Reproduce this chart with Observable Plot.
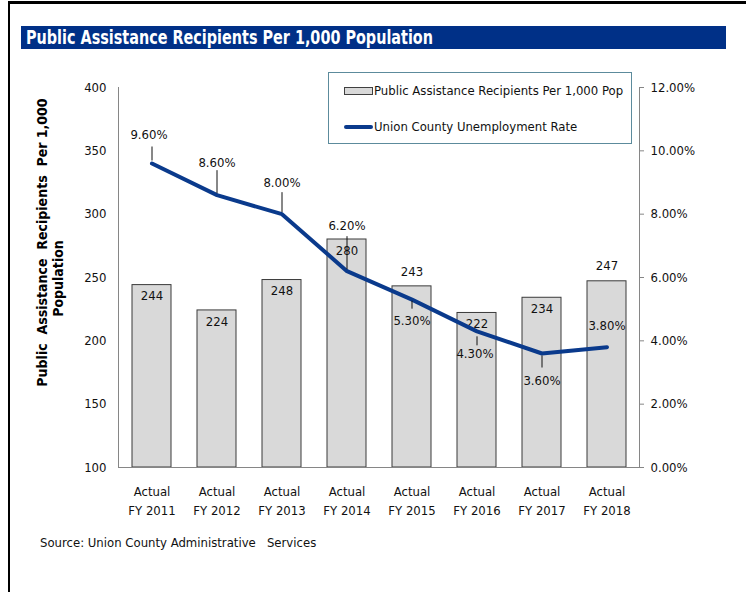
<!DOCTYPE html>
<html>
<head>
<meta charset="utf-8">
<script src="https://cdn.jsdelivr.net/npm/d3@7"></script>
<script src="https://cdn.jsdelivr.net/npm/@observablehq/plot@0.6"></script>
<style>
  html, body { margin: 0; padding: 0; background: #fff; }
  #page { position: relative; width: 746px; height: 592px; overflow: hidden; font-family: "DejaVu Sans Condensed", "DejaVu Sans", sans-serif; font-stretch: condensed; }
  #chart { position: absolute; left: 0; top: 0; }
  #chart svg text { white-space: pre; }
  .frame-top { position: absolute; left: 8px; top: 1px; width: 738px; height: 3px; background: #000; }
  .frame-left { position: absolute; left: 8px; top: 1px; width: 2px; height: 591px; background: #000; }
  #title { position: absolute; left: 21px; top: 26px; width: 705px; height: 23px; background: #003087; }
  #title span { position: absolute; left: 5px; top: 0px; color: #fff; font-weight: bold; font-size: 20px; line-height: 23px; white-space: nowrap; transform-origin: 0 50%; }
  #legend { position: absolute; left: 328px; top: 72px; width: 302px; height: 70px; border: 1px solid #5c8b9c; background: #fff; font-size: 13px; color: #111; }
  .sw-bar { position: absolute; left: 15px; top: 14px; width: 27px; height: 6px; background: #d9d9d9; border: 1px solid #404040; }
  .sw-line { position: absolute; left: 15px; top: 52px; width: 29px; height: 4px; background: #0a3a8c; border-radius: 2px; }
  .lg-t { position: absolute; left: 45px; white-space: nowrap; line-height: 16px; }
  #source { position: absolute; left: 40px; top: 535px; font-size: 13px; color: #111; white-space: pre; line-height: 16px; }
</style>
</head>
<body>
<div id="page">
  <div id="chart"></div>
  <div class="frame-top"></div>
  <div class="frame-left"></div>
  <div id="title"><span id="titleText">Public Assistance Recipients Per 1,000 Population</span></div>
  <div id="legend">
    <div class="sw-bar"></div><div class="lg-t" id="lg1" style="top:10px"></div>
    <div class="sw-line"></div><div class="lg-t" id="lg2" style="top:46px"></div>
  </div>
  <div id="source"></div>
</div>
<script>
// ---- data ----
const categories = ["Actual FY 2011", "Actual FY 2012", "Actual FY 2013", "Actual FY 2014", "Actual FY 2015", "Actual FY 2016", "Actual FY 2017", "Actual FY 2018"];
const tickLabels = ["Actual\nFY 2011", "Actual\nFY 2012", "Actual\nFY 2013", "Actual\nFY 2014", "Actual\nFY 2015", "Actual\nFY 2016", "Actual\nFY 2017", "Actual\nFY 2018"];
const recipients = [244, 224, 248, 280, 243, 222, 234, 247];
const unemployment = [9.6, 8.6, 8.0, 6.2, 5.3, 4.3, 3.6, 3.8];
const leftTicks = [100, 150, 200, 250, 300, 350, 400];
const rightTicks = [0, 2, 4, 6, 8, 10, 12];
const seriesNames = ["Public Assistance Recipients Per 1,000 Pop", "Union County Unemployment Rate"];
const yTitle = ["Public  Assistance  Recipients  Per 1,000", "Population"];
const sourceText = "Source: Union County Administrative   Services";

// ---- label placement (styling, px) ----
const barLabelPlace = ["in", "in", "in", "in", "above", "in", "in", "above"];
const rateLabelDy = [-29, -32, -31, -45, 21, 22, 27, -21];
const rateLabelDx = [-3, 0, 0, 0, 0, -2, 0, 0];
const leaderFrom = [-3, -2, -2, -2, 1, 5, 2, null];
const leaderTo = [-17, -25, -22, -35, 9, 14, 14, null];

// ---- layout ----
const W = 746, H = 592;
const mTop = 87, mBottom = 125, mLeft = 118, mRight = 107;
const yDomain = [100, 400];
const rateMax = 12;
const rateToY = r => yDomain[0] + r * (yDomain[1] - yDomain[0]) / rateMax;
const pxToUnits = (yDomain[1] - yDomain[0]) / (H - mTop - mBottom);

const rows = categories.map((c, i) => ({cat: c, value: recipients[i], rate: unemployment[i], i}));
const tickMap = new Map(categories.map((c, i) => [c, tickLabels[i]]));

const lineColor = "#0a3a8c";
const axisColor = "#868686";
const font = "'DejaVu Sans Condensed', 'DejaVu Sans', sans-serif";

const rateMarks = [];
rows.forEach((d, i) => {
  rateMarks.push(Plot.text([d], {
    x: "cat", y: e => rateToY(e.rate), text: e => e.rate.toFixed(2) + "%",
    dy: rateLabelDy[i], dx: rateLabelDx[i], fontSize: 13, fill: "#111"
  }));
  if (leaderFrom[i] !== null) {
    rateMarks.push(Plot.link([d], {
      x1: "cat", x2: "cat",
      y1: e => rateToY(e.rate) - leaderFrom[i] * pxToUnits,
      y2: e => rateToY(e.rate) - leaderTo[i] * pxToUnits,
      stroke: "#111", strokeWidth: 1
    }));
  }
});

const chart = Plot.plot({
  width: W, height: H,
  marginTop: mTop, marginBottom: mBottom, marginLeft: mLeft, marginRight: mRight,
  x: {domain: categories, paddingInner: 0.4, paddingOuter: 0.2},
  y: {domain: yDomain},
  style: {fontFamily: font, fontSize: "13px", color: "#111", background: "transparent"},
  marks: [
    Plot.barY(rows, {x: "cat", y1: yDomain[0], y2: "value", fill: "#d9d9d9", stroke: "#3a3a3a", strokeWidth: 1}),
    Plot.ruleY([yDomain[0]], {stroke: axisColor, strokeWidth: 1}),
    Plot.frame({anchor: "left", stroke: axisColor}),
    Plot.frame({anchor: "right", stroke: axisColor}),
    Plot.axisY({anchor: "left", label: null, ticks: leftTicks, tickSize: 0, tickPadding: 12, fontSize: 13}),
    Plot.axisY({anchor: "right", label: null, ticks: rightTicks.map(rateToY), tickFormat: d => ((d - yDomain[0]) / (yDomain[1] - yDomain[0]) * rateMax).toFixed(2) + "%", tickSize: 4, tickPadding: 7, stroke: axisColor, fontSize: 13}),
    Plot.axisX({anchor: "bottom", label: null, tickSize: 0, tickPadding: 15, tickFormat: d => tickMap.get(d), lineHeight: 1.45, fontSize: 13}),
    Plot.text(rows.filter((d, i) => barLabelPlace[i] === "in"), {x: "cat", y: "value", text: d => String(d.value), dy: 11, fontSize: 13, fill: "#111"}),
    Plot.text(rows.filter((d, i) => barLabelPlace[i] === "above"), {x: "cat", y: "value", text: d => String(d.value), dy: -15, fontSize: 13, fill: "#111"}),
    Plot.line(rows, {x: "cat", y: d => rateToY(d.rate), stroke: lineColor, strokeWidth: 4, strokeLinejoin: "round", strokeLinecap: "round"}),
    ...rateMarks,
    Plot.text([yTitle[0]], {frameAnchor: "left", textAnchor: "middle", rotate: -90, dx: -76, dy: -35, fontWeight: "bold", fontSize: 14, fontFamily: "'DejaVu Sans', sans-serif", fill: "#000"}),
    Plot.text([yTitle[1]], {frameAnchor: "left", textAnchor: "middle", rotate: -90, dx: -60, dy: 1, fontWeight: "bold", fontSize: 14, fontFamily: "'DejaVu Sans', sans-serif", fill: "#000"})
  ]
});
document.getElementById("chart").appendChild(chart);
document.getElementById("lg1").textContent = seriesNames[0];
document.getElementById("lg2").textContent = seriesNames[1];
document.getElementById("source").textContent = sourceText;

// fit title width to the reference's text width
const t = document.getElementById("titleText");
const tw = t.getBoundingClientRect().width;
t.style.transform = `scaleX(${407 / tw})`;
</script>
</body>
</html>
